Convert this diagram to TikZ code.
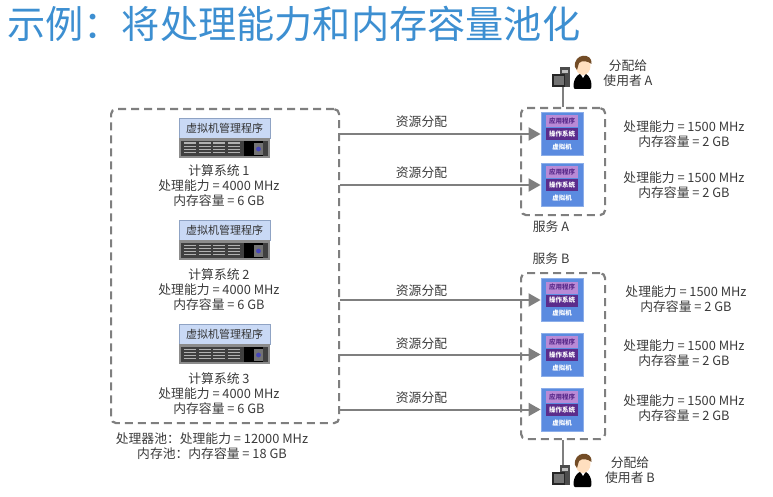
\documentclass[tikz,border=0pt]{standalone}
\usepackage{fontspec}
\setmainfont{Noto Sans CJK SC}
\usetikzlibrary{arrows.meta}
\definecolor{titleblue}{HTML}{3D8FD1}
\definecolor{inktext}{HTML}{3A3A3A}
\definecolor{linegray}{HTML}{7F7F7F}
\definecolor{hvblue}{HTML}{C9D9F5}
\definecolor{hvedge}{HTML}{8FA3C4}
\definecolor{vmblue}{HTML}{5B8BE0}
\definecolor{appviolet}{HTML}{B98AD6}
\definecolor{osviolet}{HTML}{5B2C8C}
\tikzset{
  x=1pt,y=-1pt,
  label text/.style={font=\fontsize{12.8}{15}\selectfont,text=inktext,inner sep=0pt,align=center},
  dashbox/.style={draw=linegray,line width=2.2pt,dash pattern=on 8pt off 5pt,rounded corners=5pt,anchor=north west,inner sep=0pt},
  alloc/.style={draw=linegray,line width=2pt,-{Triangle[length=12pt,width=13pt]}},
  wire/.style={draw=linegray,line width=2.6pt},
  hvbar/.style={draw=hvedge,fill=hvblue,line width=.6pt,minimum width=91pt,minimum height=20pt,inner sep=0pt,
     font=\fontsize{11}{13}\selectfont,text=black!80},
  vmbody/.style={draw=vmblue!70!white,fill=vmblue,line width=.8pt,minimum width=42pt,minimum height=43pt,inner sep=0pt},
  vmlayer/.style={inner sep=0pt,minimum width=32pt,minimum height=12pt,font=\fontsize{6.5}{7}\bfseries\selectfont},
}
% Rack server: hypervisor bar above a dark chassis with vents and a power panel
\newcommand{\hostunit}[2]{%
  \node[hvbar] (#1) at (224.5,#2+10) {虚拟机管理程序};
  \fill[black!45] (179,#2+20) rectangle (270,#2+40);
  \fill[black!75] (181,#2+23) rectangle (268,#2+38);
  \foreach \k in {0,1,2,3}{
    \foreach \r in {0,1,2,3}{
      \fill[black!30] (184+\k*14.5,#2+24.5+\r*3.2) rectangle (196+\k*14.5,#2+25.8+\r*3.2);
    }
  }
  \fill[black] (244,#2+23) rectangle (263,#2+38);
  \fill[black!55] (254,#2+25) rectangle (263,#2+37);
  \fill[blue!45!gray] (258.5,#2+31) circle (2.4);
}
% Virtual machine: application and OS layers on a blue body
\newcommand{\vmunit}[2]{%
  \node[vmbody] (#1) at (562,#2) {};
  \node[vmlayer,fill=appviolet,text=osviolet] at (562,#2-12.5) {应用程序};
  \node[vmlayer,fill=osviolet,text=white] at (562,#2+0.5) {操作系统};
  \node[inner sep=0pt,font=\fontsize{6.5}{7}\bfseries\selectfont,text=white] at (562,#2+13.5) {虚拟机};
}
% Terminal and user figure; the origin is the top of the head's row
\newcommand{\userunit}[2]{%
  \begin{scope}[shift={(#1,#2)}]
    \fill[black!70] (8,12) rectangle (18,32);
    \fill[black!25] (10,15) rectangle (16,18);
    \fill[black!85] (0,19) rectangle (13,32);
    \fill[black!55] (2,21) rectangle (12,30);
    \fill[black] (23,34) .. controls (20,34) and (21,19) .. (31,18)
       .. controls (40,19) and (41,34) .. (38,34) -- cycle;
    \fill[white] (28,18) -- (34,18) -- (31,23) -- cycle;
    \fill[orange!25!white] (31,11) ellipse (7.5 and 9);
    \fill[brown!60!black] (23,12) .. controls (21,-2) and (41,-3) .. (39.5,9)
       .. controls (36,6) and (30,5) .. (27,8) -- (25,15) -- cycle;
  \end{scope}
}
\begin{document}
\begin{tikzpicture}
\useasboundingbox (0,0) rectangle (773,497);
\node[anchor=west,inner sep=0pt,text=titleblue,font=\fontsize{38.2}{42}\selectfont] (heading) at (7,24) {示例：将处理能力和内存容量池化};

% Processor and memory pool
\node[dashbox,minimum width=228pt,minimum height=314pt] (pool) at (110,108) {};
\hostunit{hostA}{118}
\hostunit{hostB}{220}
\hostunit{hostC}{324}
\node[label text] (hostAtext) at (219,186) {计算系统 1\\处理能力 = 4000 MHz\\内存容量 = 6 GB};
\node[label text] (hostBtext) at (219,290) {计算系统 2\\处理能力 = 4000 MHz\\内存容量 = 6 GB};
\node[label text] (hostCtext) at (219,394) {计算系统 3\\处理能力 = 4000 MHz\\内存容量 = 6 GB};
\node[label text] (pooltext) at (212,446.5) {处理器池：处理能力 = 12000 MHz\\内存池：内存容量 = 18 GB};

% Services with their virtual machines
\node[dashbox,minimum width=84pt,minimum height=107pt] (svcA) at (520,107) {};
\node[dashbox,minimum width=84pt,minimum height=166pt] (svcB) at (520,272) {};
\vmunit{vmA}{134}
\vmunit{vmB}{185}
\vmunit{vmC}{300}
\vmunit{vmD}{354.5}
\vmunit{vmE}{409.5}
\node[label text] (svcAtext) at (551,227) {服务 A};
\node[label text] (svcBtext) at (551,259) {服务 B};

% Resource allocation arrows
\coordinate (tipA) at (vmA.west);
\coordinate (tipB) at (vmB.west);
\coordinate (tipC) at (vmC.west);
\coordinate (tipD) at (vmD.west);
\coordinate (tipE) at (vmE.west);
\foreach \t/\lab in {tipA/122,tipB/172.5,tipC/290.5,tipD/344,tipE/397.5}{
  \draw[alloc] (pool.east |- \t) -- (\t);
  \node[label text] at (421.5,\lab) {资源分配};
}

% Capacity of each virtual machine
\node[label text] (capA) at (684,134.5) {处理能力 = 1500 MHz\\内存容量 = 2 GB};
\node[label text] (capB) at (684,185) {处理能力 = 1500 MHz\\内存容量 = 2 GB};
\node[label text] (capC) at (686,299.5) {处理能力 = 1500 MHz\\内存容量 = 2 GB};
\node[label text] (capD) at (684,353.5) {处理能力 = 1500 MHz\\内存容量 = 2 GB};
\node[label text] (capE) at (684,408.5) {处理能力 = 1500 MHz\\内存容量 = 2 GB};

% Users attached to the services
\coordinate (userAport) at (563,87);
\coordinate (userBport) at (563,466);
\draw[wire] (userAport) -- (svcA.north -| userAport);
\draw[wire] (userBport) -- (svcB.south -| userBport);
\userunit{552}{55}
\userunit{552}{453}
\node[label text] (userAtext) at (628,73) {分配给\\使用者 A};
\node[label text] (userBtext) at (630,470.5) {分配给\\使用者 B};
\end{tikzpicture}
\end{document}
